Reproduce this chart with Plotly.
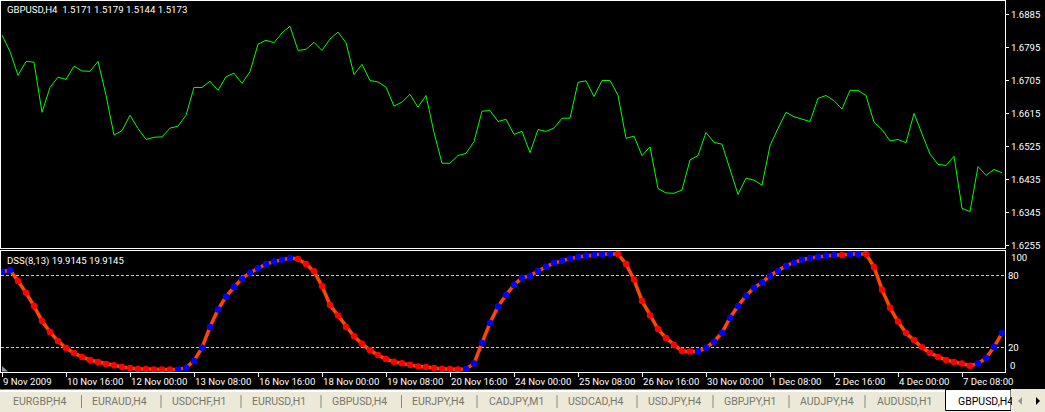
import plotly.graph_objects as go

price = [1.6830, 1.6785, 1.6720, 1.6758, 1.6756, 1.6619, 1.6687, 1.6715, 1.6709, 1.6745,
         1.6732, 1.6731, 1.6758, 1.6666, 1.6557, 1.6569, 1.6611, 1.6575, 1.6545, 1.6551,
         1.6552, 1.6576, 1.6581, 1.6611, 1.6687, 1.6687, 1.6704, 1.6679, 1.6716, 1.6726,
         1.6698, 1.6730, 1.6805, 1.6816, 1.6809, 1.6836, 1.6854, 1.6788, 1.6791, 1.6810,
         1.6788, 1.6819, 1.6838, 1.6809, 1.6722, 1.6750, 1.6706, 1.6702, 1.6688, 1.6636,
         1.6647, 1.6668, 1.6633, 1.6665, 1.6564, 1.6480, 1.6480, 1.6501, 1.6507, 1.6539,
         1.6622, 1.6624, 1.6594, 1.6600, 1.6559, 1.6567, 1.6509, 1.6572, 1.6567, 1.6576,
         1.6603, 1.6603, 1.6701, 1.6705, 1.6662, 1.6706, 1.6706, 1.6666, 1.6548, 1.6554,
         1.6501, 1.6525, 1.6411, 1.6399, 1.6398, 1.6407, 1.6489, 1.6501, 1.6564, 1.6537,
         1.6532, 1.6461, 1.6395, 1.6439, 1.6434, 1.6420, 1.6528, 1.6575, 1.6619, 1.6607,
         1.6600, 1.6594, 1.6657, 1.6665, 1.6651, 1.6628, 1.6679, 1.6679, 1.6665, 1.6592,
         1.6572, 1.6541, 1.6545, 1.6536, 1.6616, 1.6562, 1.6505, 1.6477, 1.6474, 1.6499,
         1.6357, 1.6348, 1.6471, 1.6447, 1.6463, 1.6454]

dss = [83.0, 84.4, 75.2, 65.5, 54.4, 41.9, 32.8, 25.2, 19.4, 15.2,
       11.9, 9.4, 7.8, 6.1, 5.0, 3.6, 2.8, 2.0, 2.0, 1.4,
       1.4, 1.4, 1.4, 3.0, 8.6, 19.7, 36.9, 51.4, 62.2, 70.2,
       77.2, 82.2, 86.1, 89.4, 91.4, 93.0, 94.4, 93.6, 89.4, 83.3,
       71.1, 55.2, 46.4, 36.9, 29.2, 23.0, 17.5, 13.6, 10.2, 8.0,
       6.6, 5.5, 3.9, 3.6, 2.8, 2.0, 2.0, 1.4, 2.0, 6.4,
       23.6, 40.2, 53.9, 63.6, 71.9, 77.8, 79.7, 83.6, 87.2, 90.2,
       92.2, 93.9, 95.2, 96.4, 96.9, 97.8, 98.0, 97.8, 89.4, 76.4,
       58.6, 46.4, 35.2, 27.8, 21.9, 16.9, 16.4, 16.4, 19.7, 24.7,
       32.2, 44.7, 54.4, 63.0, 69.7, 73.9, 79.7, 83.6, 88.0, 90.5,
       93.0, 94.4, 95.2, 96.4, 96.9, 96.9, 97.8, 97.8, 97.8, 86.9,
       68.0, 53.0, 41.4, 31.9, 26.1, 20.0, 15.2, 11.9, 9.4, 7.8,
       6.4, 4.7, 6.4, 11.1, 20.2, 31.9]

# (first bar, last bar) of the stretches where the DSS dots are blue
blue_runs = [(0, 1), (22, 36), (58, 76), (87, 104), (106, 107), (122, 125)]

date_ticks = [0, 8, 16, 24, 32, 40, 48, 56, 64, 72, 80, 88, 96, 104, 112, 120]
date_labels = ['9 Nov 2009', '10 Nov 16:00', '12 Nov 00:00', '13 Nov 08:00',
               '16 Nov 16:00', '18 Nov 00:00', '19 Nov 08:00', '20 Nov 16:00',
               '24 Nov 00:00', '25 Nov 08:00', '26 Nov 16:00', '30 Nov 00:00',
               '1 Dec 08:00', '2 Dec 16:00', '4 Dec 00:00', '7 Dec 08:00']
price_ticks = [1.6885, 1.6795, 1.6705, 1.6615, 1.6525, 1.6435, 1.6345, 1.6255]

tab_names = ['EURGBP,H4', 'EURAUD,H4', 'USDCHF,H1', 'EURUSD,H1', 'GBPUSD,H4', 'EURJPY,H4',
             'CADJPY,M1', 'USDCAD,H4', 'USDJPY,H4', 'GBPJPY,H1', 'AUDJPY,H4', 'AUDUSD,H1']
tab_text_x = [12, 91, 171, 251, 331, 411, 488, 567, 647, 723, 799, 876]
tab_sep_x = [81.5, 161, 241, 321, 401.5, 477, 557, 637, 713, 789, 865]

W, H = 1045, 412
FONT = 'Roboto'
BEIGE = '#ece9d8'


def px(x):
    return x / W


def py(y):
    return 1 - y / H


def note(text, x, y, xref='paper', yref='paper', size=9.6, color='white', **kw):
    return dict(text=text, x=x, y=y, xref=xref, yref=yref, xanchor='left', yanchor='middle',
                showarrow=False, borderpad=0, font=dict(color=color, size=size), **kw)


bars = list(range(len(price)))
is_blue = [any(a <= i <= b for a, b in blue_runs) for i in bars]

data = [
    go.Scatter(x=bars, y=price, mode='lines', line=dict(color='#00ff00', width=1),
               xaxis='x', yaxis='y', showlegend=False),
    go.Scatter(x=bars, y=dss, mode='lines', line=dict(color='#ff4500', width=3.5),
               xaxis='x2', yaxis='y2', showlegend=False),
    go.Scatter(x=bars, y=dss, mode='markers',
               marker=dict(size=6.5, color=['#0000ff' if b else '#ff0000' for b in is_blue]),
               xaxis='x2', yaxis='y2', showlegend=False),
]

shapes = [
    # tab strip
    dict(type='rect', xref='paper', yref='paper', x0=0, x1=1, y0=py(412), y1=py(392),
         fillcolor=BEIGE, line_width=0),
    dict(type='rect', xref='paper', yref='paper', x0=0, x1=1, y0=py(392), y1=py(389.5),
         fillcolor='white', line_width=0),
    dict(type='rect', xref='paper', yref='paper', x0=px(945.5), x1=px(1011), y0=py(410.5), y1=py(389.5),
         fillcolor='white', line=dict(color='black', width=1)),
    dict(type='rect', xref='paper', yref='paper', x0=px(1011), x1=1, y0=py(412), y1=py(389),
         fillcolor=BEIGE, line_width=0),
    # scroll arrows
    dict(type='path', xref='paper', yref='paper', fillcolor='#9a9a90', line_width=0,
         path=f'M {px(1022)} {py(397)} L {px(1022)} {py(405)} L {px(1018)} {py(401)} Z'),
    dict(type='path', xref='paper', yref='paper', fillcolor='black', line_width=0,
         path=f'M {px(1036)} {py(397)} L {px(1036)} {py(405)} L {px(1040)} {py(401)} Z'),
    # shift marker, bottom left of the indicator pane
    dict(type='path', xref='paper', yref='paper', fillcolor='#8f9aa5', line_width=0,
         path=f'M {px(2)} {py(366)} L {px(2)} {py(371.5)} L {px(8)} {py(371.5)} Z'),
]
for x in tab_sep_x:
    shapes.append(dict(type='line', xref='paper', yref='paper', x0=px(x), x1=px(x), y0=py(395), y1=py(408),
                       line=dict(color='#8a8a7c', width=1)))

annotations = [
    note('GBPUSD,H4\u00a0 1.5171 1.5179 1.5144 1.5173', px(6), py(9.5), size=9.6),
    note('DSS(8,13) 19.9145 19.9145', px(6), py(260.5), size=9.6),
]
for t, label in zip(date_ticks, date_labels):
    annotations.append(note(label, t, py(381.7), xref='x2', size=9.6))
# the 100 and 0 labels are pushed inside the pane
annotations.append(note('100', px(1010), 100, yref='y2', yshift=-6.5, size=9.6))
annotations.append(note('0', px(1009), 0, yref='y2', yshift=5.5, size=9.6))
for x, name in zip(tab_text_x, tab_names):
    annotations.append(note(name, px(x), py(401), size=10.5, color='#77776b'))
annotations.append(note('GBPUSD,H4', px(957), py(401), size=10.5, color='black', width=54, align='left'))

# x axis: bar 0 sits at pixel 2, one bar every 8 pixels
x_range = [-0.125, 125.375]
frame = dict(showline=True, linecolor='white', linewidth=1, mirror=True, zeroline=False, automargin=False)

layout = go.Layout(
    width=W, height=H,
    margin=dict(l=0, r=0, t=0, b=0),
    paper_bgcolor='black', plot_bgcolor='black',
    font=dict(family=FONT, size=9.6, color='white'),
    hovermode=False,
    xaxis=dict(domain=[px(1), px(1005)], range=x_range, anchor='y', showticklabels=False,
               showgrid=False, ticks='', **frame),
    yaxis=dict(domain=[py(248), py(1)], range=[1.62486, 1.6923], side='right', anchor='x',
               tickvals=price_ticks, ticktext=[f'{p:.4f}' for p in price_ticks],
               ticks='outside', ticklen=3, tickcolor='white', showgrid=False, **frame),
    xaxis2=dict(domain=[px(1), px(1005)], range=x_range, anchor='y2', tickvals=date_ticks,
                showticklabels=False, ticks='outside', ticklen=4, tickcolor='white',
                showgrid=False, **frame),
    yaxis2=dict(domain=[py(372), py(250.5)], range=[-0.6, 100.67], side='right', anchor='x2',
                tickvals=[20, 80], ticktext=['20', '80'], ticks='', showgrid=True,
                gridcolor='#c8c8c8', griddash='3px,2px', gridwidth=1, **frame),
    shapes=shapes,
    annotations=annotations,
)

fig = go.Figure(data=data, layout=layout)
fig.write_html('out.html', config={'displayModeBar': False},
               post_script="document.body.style.margin='0';")
